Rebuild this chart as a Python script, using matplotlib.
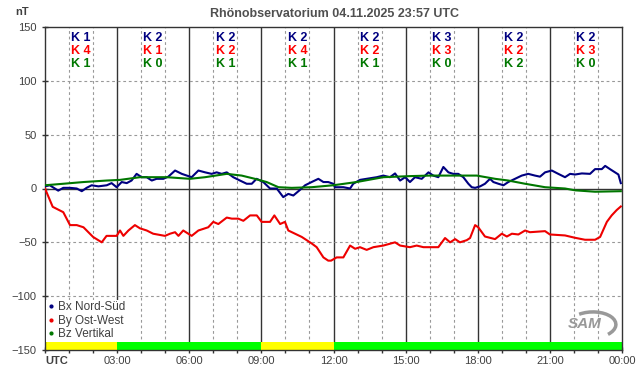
import matplotlib
matplotlib.use('Agg')
from matplotlib import pyplot as plt
from matplotlib.lines import Line2D
from matplotlib.patches import Arc

plt.rcParams['font.family'] = ['Liberation Sans', 'DejaVu Sans']

# Bx Nord-Sued (hours UTC, nT)
bx_t = [0, 0.2, 0.55, 0.76, 1.04, 1.32, 1.53, 1.73, 1.94, 2.22, 2.57, 2.77, 2.98, 3.19, 3.4, 3.6,
        3.81, 4.02, 4.23, 4.44, 4.64, 4.92, 5.13, 5.41, 5.69, 5.9, 6.1, 6.38, 6.66, 6.93, 7.14,
        7.35, 7.56, 7.83, 8.11, 8.39, 8.6, 8.8, 9.08, 9.36, 9.64, 9.91, 10.12, 10.33, 10.61,
        10.82, 11.09, 11.37, 11.58, 11.78, 11.99, 12.06, 12.41, 12.69, 12.82, 13.1, 13.38,
        13.8, 14.07, 14.35, 14.56, 14.77, 14.98, 15.18, 15.39, 15.67, 15.95, 16.15, 16.36,
        16.57, 16.78, 16.98, 17.19, 17.4, 17.61, 17.75, 17.89, 18.1, 18.3, 18.51, 18.65, 18.86,
        19.07, 19.27, 19.55, 19.83, 20.1, 20.38, 20.59, 20.8, 21.08, 21.35, 21.63, 21.84, 22.05,
        22.33, 22.67, 22.88, 23.16, 23.3, 23.5, 23.71, 23.85, 23.95]
bx_v = [2, 3, -2, 0.6, 0.6, 0, -2.5, 0.6, 3, 2, 3, 5, 1.2, 6, 5, 7.4,
        13.6, 10.5, 10.5, 7.4, 9, 9, 11, 16.7, 13.6, 12, 10.5, 16.7, 15, 13.6, 15,
        13.6, 15, 10.5, 7.4, 4.4, 4.4, 9, 6, 0, 0, -8, -5, -6.5, -1.2,
        3, 6, 9, 6, 6, 4.4, 1.2, 1.2, 0, 4.4, 8, 9,
        10.5, 12, 10.5, 14, 7.4, 10.5, 6, 10.5, 9, 15, 12, 10.5,
        20, 15, 13.6, 13.6, 10.5, 4.4, 1.2, 0.6, 2, 4.4, 9, 6, 4.4,
        3, 6, 9, 12, 13.6, 12, 11, 15, 16.7, 13.6, 10.5, 13.6, 13,
        14, 13.6, 18, 18, 21, 18, 15, 13, 5]

# By Ost-West
by_t = [0, 0.32, 0.76, 1.04, 1.32, 1.6, 2.0, 2.36, 2.56, 2.77, 2.98, 3.12, 3.26, 3.47, 3.74,
        3.95, 4.23, 4.5, 4.99, 5.2, 5.41, 5.55, 5.75, 6.1, 6.38, 6.79, 7.0, 7.21, 7.56, 7.77,
        8.04, 8.25, 8.53, 8.81, 9.01, 9.36, 9.54, 9.78, 9.98, 10.12, 10.4, 10.68, 11.09, 11.3,
        11.58, 11.78, 11.9, 12.13, 12.41, 12.69, 12.9, 13.1, 13.38, 13.66, 14.07, 14.56, 14.77,
        15.18, 15.46, 15.74, 16.0, 16.36, 16.64, 16.85, 17.06, 17.26, 17.54, 17.68, 17.89,
        18.02, 18.3, 18.72, 19.0, 19.21, 19.42, 19.69, 19.97, 20.17, 20.8, 21.0, 21.63, 22.05,
        22.46, 22.88, 23.09, 23.37, 23.57, 23.78, 23.95]
by_v = [0, -17, -22, -34, -34, -36, -45, -50, -44, -44, -44, -39, -44, -39, -34,
        -37, -39, -42, -44, -42, -40.6, -44, -39, -44, -39, -36, -31, -33, -27, -28,
        -28, -30, -25, -25, -31, -31, -25, -33, -31, -39, -42, -45, -51, -54.5,
        -64, -67, -67, -64, -64, -53, -56, -54.5, -57, -54.5, -53, -50, -53,
        -54.5, -53, -54.5, -54.5, -54.5, -46, -50, -47, -50, -48, -46, -34,
        -36, -44.6, -47, -42, -44.6, -42, -42.7, -39, -40.6, -39.6, -42.7, -43.6, -45.8,
        -47.6, -47.6, -45, -31, -25, -20, -16.7]

# Bz Vertikal
bz_t = [0, 0.76, 1.6, 2.57, 3.12, 3.95, 5.06, 6.03, 6.66, 7.56, 8.18, 8.73, 9.22, 9.71,
        10.26, 11.09, 11.99, 12.96, 14.07, 15.18, 16.0, 17.12, 17.96, 18.72, 19.27, 19.97,
        20.8, 21.63, 22.05, 22.88, 23.95]
bz_v = [3, 4.4, 6, 7.4, 8, 10.5, 10.5, 9, 10.5, 13.6, 12, 9, 6, 1.2,
        0.6, 1.2, 3, 6, 10.5, 11.5, 12, 12, 12, 9, 7.4, 4.4,
        1.2, 0, -1.7, -3, -2.5]

# K indices per 3 h block
k_bx = [1, 2, 2, 2, 2, 3, 2, 2]
k_by = [4, 1, 2, 4, 2, 3, 2, 3]
k_bz = [1, 0, 1, 1, 1, 0, 2, 0]
block_status = ['#ffff00', '#00ff00', '#00ff00', '#ffff00',
                '#00ff00', '#00ff00', '#00ff00', '#00ff00']

x_ticks = [0, 3, 6, 9, 12, 15, 18, 21, 24]
x_labels = ['UTC', '03:00', '06:00', '09:00', '12:00', '15:00', '18:00', '21:00', '00:00']
y_ticks = [-150, -100, -50, 0, 50, 100, 150]

col_bx = '#000080'
col_by = '#ee0000'
col_bz = '#007700'
txt = '#404040'

fig = plt.figure(figsize=(6.42, 3.76), dpi=100)
ax = fig.add_axes([45 / 642, 1 - 350 / 376, 577 / 642, 323 / 376])

# grid
for h in range(1, 24):
    if h % 3:
        ax.axvline(h, color='#999999', ls=(0, (2.5, 2.5)), lw=0.8, zorder=1)
    else:
        ax.axvline(h, color='#333333', lw=1.0, zorder=1)
for yv in [-100, -50, 50, 100]:
    ax.axhline(yv, color='#999999', ls=(0, (2.5, 2.5)), lw=0.8, zorder=1)
ax.axhline(0, color='#333333', lw=1.0, zorder=1)

# status strip
for i, c in enumerate(block_status):
    ax.fill_between([3 * i, 3 * i + 3], -150, -142.5, color=c, lw=0, zorder=2)

ax.plot(by_t, by_v, color=col_by, lw=1.5, zorder=3)
ax.plot(bx_t, bx_v, color=col_bx, lw=1.5, zorder=3)
ax.plot(bz_t, bz_v, color=col_bz, lw=1.5, zorder=4)

# K labels
for i in range(8):
    xc = 3 * i + 1.5
    ax.text(xc, 140, 'K %d' % k_bx[i], color=col_bx, ha='center', va='center',
            fontsize=9, weight='bold', zorder=5)
    ax.text(xc, 128, 'K %d' % k_by[i], color='#ff0000', ha='center', va='center',
            fontsize=9, weight='bold', zorder=5)
    ax.text(xc, 116, 'K %d' % k_bz[i], color=col_bz, ha='center', va='center',
            fontsize=9, weight='bold', zorder=5)

ax.set_xlim(0, 24)
ax.set_ylim(-150, 150)
ax.set_xticks(x_ticks)
ax.set_xticklabels(x_labels)
ax.set_xticks(range(25), minor=True)
ax.set_yticks(y_ticks)
ax.tick_params(axis='both', which='both', direction='inout', length=5, width=1,
               color='#333333', labelsize=8, labelcolor=txt)
ax.tick_params(axis='x', pad=2)
ax.get_xticklabels()[0].set_weight('bold')
ax.get_xticklabels()[0].set_horizontalalignment('left')
for s in ax.spines.values():
    s.set_color('#333333')
    s.set_linewidth(1.0)

# legend (white box hides the grid behind it)
handles = [Line2D([], [], marker='o', ms=2.0, ls='none', color=c) for c in [col_bx, col_by, col_bz]]
leg = ax.legend(handles, ['Bx Nord-Süd', 'By Ost-West', 'Bz Vertikal'], loc='lower left',
                bbox_to_anchor=(0.002, 8 / 323), frameon=True, fancybox=False,
                facecolor='white', edgecolor='none', framealpha=1, fontsize=8.5,
                handlelength=0.5, handletextpad=0.35, labelspacing=0.12,
                borderaxespad=0, borderpad=0.15)
for t in leg.get_texts():
    t.set_color(txt)

fig.text(335 / 642, 1 - 14 / 376, 'Rhönobservatorium 04.11.2025 23:57 UTC', ha='center',
         va='center', fontsize=9, weight='bold', color='#505050')
fig.text(22 / 642, 1 - 12 / 376, 'nT', ha='center', va='center', fontsize=8, weight='bold',
         color=txt)

# SAM logo
fig.text(585 / 642, 1 - 324 / 376, 'SAM', ha='center', va='center', fontsize=11,
         style='italic', weight='bold', color='#999999')
fig.patches.append(Arc((592 / 642, 1 - 325 / 376), 48 / 642, 26 / 376, angle=15,
                       theta1=-60, theta2=110, color='#999999', lw=2.5,
                       transform=fig.transFigure, figure=fig))

fig.savefig('out.png', dpi=100)
